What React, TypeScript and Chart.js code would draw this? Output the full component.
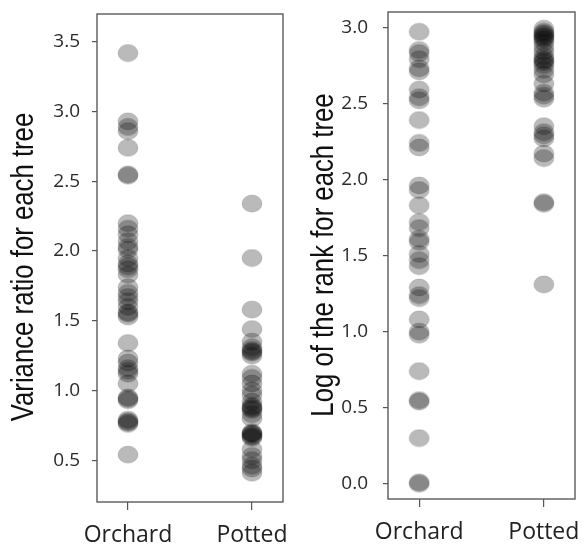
import React, { useEffect, useRef } from "react";
import { Chart, registerables } from "chart.js";

Chart.register(...registerables);

const categories = ["Orchard", "Potted"];

const varianceOrchard = [
  3.42, 2.93, 2.89, 2.86, 2.74, 2.55, 2.54, 2.2, 2.16, 2.12, 2.07, 2.03, 2.01,
  1.95, 1.91, 1.89, 1.87, 1.83, 1.74, 1.7, 1.67, 1.64, 1.6, 1.56, 1.55, 1.53,
  1.34, 1.23, 1.2, 1.16, 1.14, 1.12, 1.05, 0.95, 0.94, 0.93, 0.79, 0.78, 0.77,
  0.76, 0.54,
];
const variancePotted = [
  2.34, 1.95, 1.58, 1.44, 1.35, 1.31, 1.29, 1.28, 1.27, 1.25, 1.12, 1.09, 1.05,
  1.0, 0.97, 0.92, 0.89, 0.88, 0.87, 0.86, 0.83, 0.8, 0.7, 0.69, 0.69, 0.68,
  0.67, 0.66, 0.58, 0.53, 0.5, 0.46, 0.44, 0.41,
];
const rankOrchard = [
  2.97, 2.85, 2.83, 2.79, 2.73, 2.71, 2.59, 2.54, 2.52, 2.39, 2.24, 2.21, 1.96,
  1.93, 1.83, 1.72, 1.68, 1.61, 1.59, 1.51, 1.47, 1.43, 1.29, 1.24, 1.22, 1.08,
  1.0, 0.98, 0.74, 0.55, 0.54, 0.3, 0.01, 0.0,
];
const rankPotted = [
  2.99, 2.97, 2.96, 2.95, 2.94, 2.93, 2.92, 2.9, 2.87, 2.84, 2.81, 2.79, 2.78,
  2.77, 2.75, 2.72, 2.69, 2.63, 2.57, 2.55, 2.53, 2.35, 2.31, 2.29, 2.27, 2.17,
  2.14, 1.85, 1.84, 1.31,
];
const varianceTicks = [0.5, 1.0, 1.5, 2.0, 2.5, 3.0, 3.5];
const rankTicks = [0.0, 0.5, 1.0, 1.5, 2.0, 2.5, 3.0];

function makeDot(): HTMLCanvasElement {
  const c = document.createElement("canvas");
  c.width = 22;
  c.height = 19;
  const ctx = c.getContext("2d")!;
  ctx.beginPath();
  ctx.ellipse(11, 9.5, 10, 8.5, 0, 0, Math.PI * 2);
  ctx.fillStyle = "rgba(0,0,0,0.27)";
  ctx.fill();
  ctx.lineWidth = 1;
  ctx.strokeStyle = "rgba(0,0,0,0.15)";
  ctx.stroke();
  return c;
}

const framePlugin = {
  id: "frame",
  afterDraw(chart: any, _args: any, opts: any) {
    const { ctx, chartArea: a } = chart;
    ctx.save();
    ctx.strokeStyle = opts.color;
    ctx.lineWidth = opts.width;
    ctx.strokeRect(a.left, a.top, a.right - a.left, a.bottom - a.top);
    ctx.font = opts.titleFont;
    ctx.fillStyle = "#111";
    ctx.textAlign = "center";
    ctx.textBaseline = "alphabetic";
    ctx.translate(opts.titleX, opts.titleY);
    ctx.rotate(-Math.PI / 2);
    ctx.scale(opts.titleStretch, 1);
    ctx.fillText(opts.title, 0, 0);
    ctx.restore();
  },
};

interface PanelProps {
  width: number;
  height: number;
  orchard: number[];
  potted: number[];
  yTicks: number[];
  yMin: number;
  yMax: number;
  title: string;
  titleX: number;
  titleY: number;
  pad: { top: number; right: number };
  yAxisWidth: number;
  xAxisHeight: number;
  yLabelPad: number;
}

function Panel(p: PanelProps) {
  const ref = useRef<HTMLCanvasElement>(null);
  useEffect(() => {
    const dot = makeDot();
    const gridCommon = {
      drawOnChartArea: false,
      drawTicks: true,
      color: "#555",
      lineWidth: 1.2,
    };
    const chart = new Chart(ref.current!, {
      type: "scatter",
      data: {
        datasets: [
          {
            label: categories[0],
            data: p.orchard.map((v) => ({ x: 1, y: v })),
            pointStyle: dot as any,
            pointRadius: 10,
          },
          {
            label: categories[1],
            data: p.potted.map((v) => ({ x: 2, y: v })),
            pointStyle: dot as any,
            pointRadius: 10,
          },
        ],
      },
      options: {
        responsive: false,
        animation: false,
        layout: {
          autoPadding: false,
          padding: { top: p.pad.top, right: p.pad.right, left: 0, bottom: 0 },
        },
        plugins: {
          legend: { display: false },
          tooltip: { enabled: false },
          frame: {
            color: "#5a5a5a",
            width: 1.4,
            title: p.title,
            titleX: p.titleX,
            titleY: p.titleY,
            titleStretch: 0.83,
            titleFont: "31px 'Liberation Sans', Arial, sans-serif",
          },
        } as any,
        scales: {
          x: {
            type: "linear",
            min: 0.75,
            max: 2.25,
            afterBuildTicks: (s: any) => {
              s.ticks = [1, 2].map((v) => ({ value: v }));
            },
            afterFit: (s: any) => {
              s.height = p.xAxisHeight;
              s.paddingLeft = 0;
              s.paddingRight = 0;
            },
            ticks: {
              callback: (v: any) => categories[Math.round(Number(v)) - 1],
              font: { family: "'Open Sans', sans-serif", size: 23 },
              color: "#222",
              padding: 12,
              maxRotation: 0,
              autoSkip: false,
            },
            grid: { ...gridCommon, tickLength: 8 },
            border: { display: false },
          },
          y: {
            type: "linear",
            min: p.yMin,
            max: p.yMax,
            afterBuildTicks: (s: any) => {
              s.ticks = p.yTicks.map((v) => ({ value: v }));
            },
            afterFit: (s: any) => {
              s.width = p.yAxisWidth;
              s.paddingTop = 0;
              s.paddingBottom = 0;
            },
            ticks: {
              callback: (v: any) => Number(v).toFixed(1),
              font: { family: "'Open Sans', sans-serif", size: 19 },
              color: "#2a2a2a",
              padding: p.yLabelPad,
            },
            grid: { ...gridCommon, tickLength: 5 },
            border: { display: false },
          },
        },
      },
      plugins: [framePlugin as any],
    });
    return () => chart.destroy();
  }, []);
  return (
    <canvas
      ref={ref}
      width={p.width}
      height={p.height}
      style={{ display: "block", width: p.width, height: p.height }}
    />
  );
}

export default function App() {
  return (
    <div
      style={{
        position: "absolute",
        left: 0,
        top: 0,
        width: 584,
        height: 545,
        background: "#fff",
        display: "flex",
      }}
    >
      <Panel
        width={290}
        height={545}
        orchard={varianceOrchard}
        potted={variancePotted}
        yTicks={varianceTicks}
        yMin={0.2}
        yMax={3.7}
        title="Variance ratio for each tree"
        titleX={33}
        titleY={267}
        pad={{ top: 14, right: 7 }}
        yAxisWidth={97}
        xAxisHeight={43}
        yLabelPad={12}
      />
      <Panel
        width={294}
        height={545}
        orchard={rankOrchard}
        potted={rankPotted}
        yTicks={rankTicks}
        yMin={-0.1}
        yMax={3.1}
        title="Log of the rank for each tree"
        titleX={43}
        titleY={255}
        pad={{ top: 12, right: 9 }}
        yAxisWidth={98}
        xAxisHeight={46}
        yLabelPad={15}
      />
    </div>
  );
}
